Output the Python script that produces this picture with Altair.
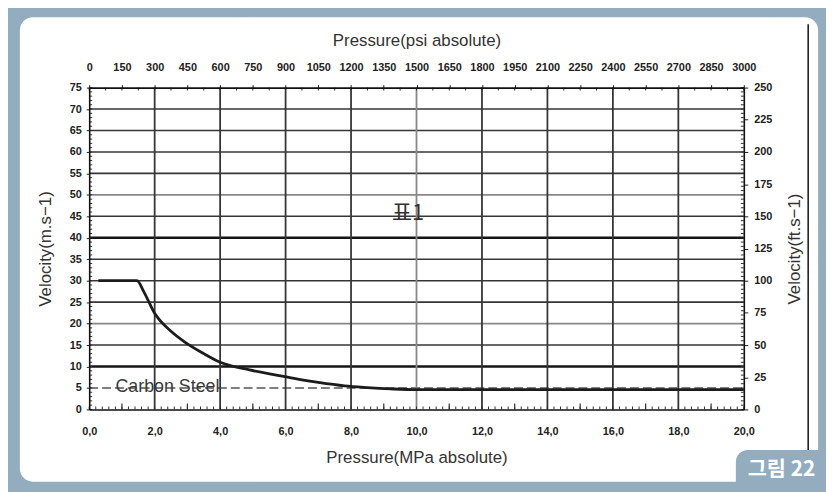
import altair as alt
import numpy as np
import pandas as pd

# ---------------- data ----------------
pressure_mpa = [0.28, 1.46, 1.67, 2.0, 2.5, 2.9, 3.5, 4.0, 4.9, 5.8, 6.5, 7.0, 7.8, 8.5, 9.2, 10.0, 20.0]
velocity_ms = [30.0, 30.0, 27.4, 22.4, 18.2, 15.8, 13.0, 11.0, 9.2, 7.9, 6.9, 6.3, 5.5, 5.1, 4.8, 4.6, 4.6]

mpa_ticks = [0, 2, 4, 6, 8, 10, 12, 14, 16, 18, 20]
ms_ticks = list(range(0, 76, 5))
psi_ticks = list(range(0, 3001, 150))
fts_ticks = list(range(0, 251, 25))

h_grid_dark = [15, 25, 30, 35, 45, 55, 60, 65, 70]
h_grid_light = [20, 50]
h_grid_thick = [10, 40]
h_grid_dashed = [5]
v_grid_dark = [2, 4, 6, 8, 12, 14, 16, 18]
v_grid_light = [10]

W, H = 661, 325
FRAME = "#93adbf"
FONT = "Liberation Sans"

sx = alt.Scale(domain=[0, 20], nice=False, zero=False)
sy = alt.Scale(domain=[0, 75], nice=False, zero=False)

one = pd.DataFrame({"k": [0]})


def px_rect(x, x2, y, y2, **kw):
    return alt.Chart(one).mark_rect(**kw).encode(
        x=alt.value(x), x2=alt.value(x2), y=alt.value(y), y2=alt.value(y2)
    )


def hrules(vals, **kw):
    return alt.Chart(pd.DataFrame({"v": vals})).mark_rule(**kw).encode(
        y=alt.Y("v:Q", scale=sy, axis=None), x=alt.value(0), x2=alt.value(W)
    )


def vrules(vals, **kw):
    return alt.Chart(pd.DataFrame({"v": vals})).mark_rule(**kw).encode(
        x=alt.X("v:Q", scale=sx, axis=None), y=alt.value(0), y2=alt.value(H)
    )


# background white panel (rounded)
panel = px_rect(-70, 736, -71, 398, color="white", cornerRadius=13)

grid = [
    hrules(h_grid_light, color="#888888", strokeWidth=1.6),
    hrules(h_grid_dark, color="#363636", strokeWidth=1.6),
    hrules(h_grid_thick, color="#151515", strokeWidth=2.5),
    hrules(h_grid_dashed, color="#555555", strokeWidth=1.5, strokeDash=[9, 4]),
    vrules(v_grid_light, color="#888888", strokeWidth=1.8),
    vrules(v_grid_dark, color="#363636", strokeWidth=1.8),
]

# ruler-like inner ticks
left_minor = alt.Chart(pd.DataFrame({"v": np.arange(0, 75.01, 1.0)})).mark_rule(
    color="#333", strokeWidth=1
).encode(y=alt.Y("v:Q", scale=sy, axis=None), x=alt.value(0), x2=alt.value(3))
right_minor = alt.Chart(pd.DataFrame({"v": np.arange(0, 75.01, 1.0)})).mark_rule(
    color="#333", strokeWidth=1
).encode(y=alt.Y("v:Q", scale=sy, axis=None), x=alt.value(W - 3), x2=alt.value(W))
bottom_minor = alt.Chart(pd.DataFrame({"v": np.arange(0, 20.01, 0.2)})).mark_rule(
    color="#333", strokeWidth=1
).encode(x=alt.X("v:Q", scale=sx, axis=None), y=alt.value(H - 3), y2=alt.value(H))
bottom_mid = alt.Chart(pd.DataFrame({"v": list(range(1, 20, 2))})).mark_rule(
    color="#333", strokeWidth=1.2
).encode(x=alt.X("v:Q", scale=sx, axis=None), y=alt.value(H - 6), y2=alt.value(H))
top_minor = alt.Chart(pd.DataFrame({"v": np.arange(0, 20.01, 0.5)})).mark_rule(
    color="#333", strokeWidth=1
).encode(x=alt.X("v:Q", scale=sx, axis=None), y=alt.value(0), y2=alt.value(3))

axis_common = dict(
    labelFont=FONT, labelFontWeight="bold", labelFontSize=11, labelColor="#222",
    titleFont=FONT, titleFontSize=17, titleFontWeight="normal", titleColor="#333",
    domainColor="#111", domainWidth=1.6, tickColor="#222", tickWidth=1,
    grid=False, labelOverlap=False, labelFlush=False, zindex=1,
)

curve = alt.Chart(pd.DataFrame({"p": pressure_mpa, "v": velocity_ms})).mark_line(
    color="#1c1c1c", strokeWidth=2.8, interpolate="monotone"
).encode(
    x=alt.X("p:Q", scale=sx, axis=None),
    y=alt.Y("v:Q", scale=sy, axis=None),
)

carbon = alt.Chart(one).mark_text(
    font=FONT, fontSize=18, color="#3a3a3a"
).encode(x=alt.value(79), y=alt.value(302), text=alt.value("Carbon Steel"))

table_label = alt.Chart(one).mark_text(
    font="Noto Sans CJK KR", fontSize=22, color="#333"
).encode(x=alt.value(322), y=alt.value(127), text=alt.value("표1"))

scan_line = alt.Chart(one).mark_rule(color="#111", strokeWidth=1.5).encode(
    x=alt.value(726), y=alt.value(-64), y2=alt.value(366)
)

badge = px_rect(653, 760, 366, 420, color=FRAME, cornerRadiusTopLeft=12)
badge_text = alt.Chart(one).mark_text(
    font="Noto Sans CJK KR", fontSize=21, fontWeight="bold", color="white"
).encode(x=alt.value(699), y=alt.value(386), text=alt.value("그림 22"))

main = alt.layer(
    panel, *grid, left_minor, right_minor, bottom_minor, bottom_mid, top_minor,
    curve, carbon, table_label, scan_line, badge, badge_text,
)

# axis carrier for MPa / m.s-1 (bottom / left)
prim = alt.Chart(pd.DataFrame({"p": [0, 20], "v": [0, 75]})).mark_point(opacity=0).encode(
    x=alt.X("p:Q", scale=sx, axis=alt.Axis(
        orient="bottom", values=mpa_ticks, title="Pressure(MPa absolute)",
        labelExpr="replace(format(datum.value, '.1f'), '.', ',')",
        ticks=False, labelPadding=16, titlePadding=14, **axis_common)),
    y=alt.Y("v:Q", scale=sy, axis=alt.Axis(
        orient="left", values=ms_ticks, title="Velocity(m.s\u22121)",
        tickSize=3, labelPadding=5, titlePadding=15, **axis_common)),
)

# axis carrier for psi / ft.s-1 (top / right)
sec = alt.Chart(pd.DataFrame({"psi": [0, 3000], "fts": [0, 250]})).mark_point(opacity=0).encode(
    x=alt.X("psi:Q", scale=alt.Scale(domain=[0, 3000], nice=False, zero=False), axis=alt.Axis(
        orient="top", values=psi_ticks, format="d", title="Pressure(psi absolute)",
        tickSize=3, labelPadding=12, titlePadding=12, **axis_common)),
    y=alt.Y("fts:Q", scale=alt.Scale(domain=[0, 250], nice=False, zero=False), axis=alt.Axis(
        orient="right", values=fts_ticks, title="Velocity(ft.s\u22121)", titleAngle=270,
        titleBaseline="top", tickSize=4, labelPadding=6, titlePadding=15, **axis_common)),
)

chart = alt.layer(main, prim, sec).resolve_scale(x="independent", y="independent").properties(
    width=W, height=H,
    padding={"left": 82, "top": 78, "right": 83, "bottom": 81},
    autosize=alt.AutoSizeParams(type="none"),
).configure(background=FRAME).configure_view(stroke=None)

chart.save("out.html", embed_options={"renderer": "svg", "actions": False})
